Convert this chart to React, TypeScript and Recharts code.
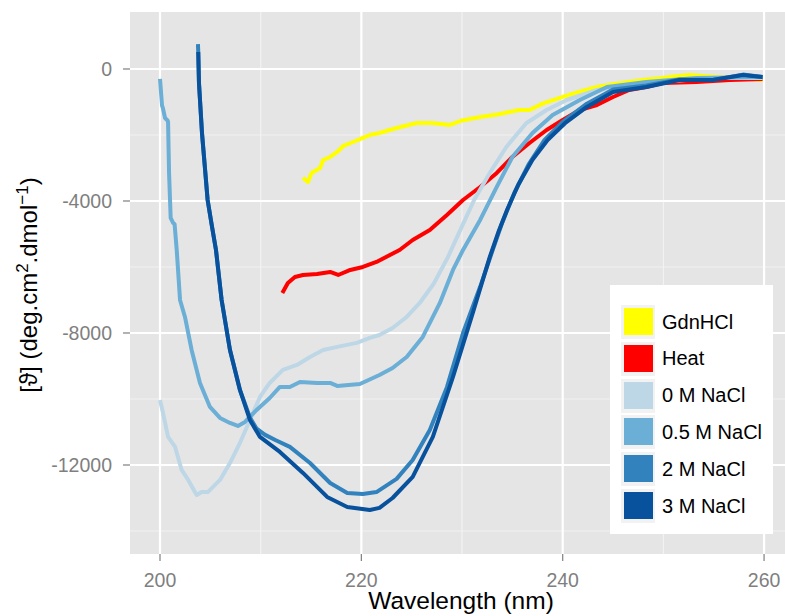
import React from 'react';
import { LineChart, Line, XAxis, YAxis, CartesianGrid, Legend, Label } from 'recharts';

// wavelength (nm) and molar ellipticity
const gdnWl = [214.2, 214.7, 215.05, 215.9, 216.2, 216.9, 217.6, 218.2, 219.2, 220.15, 220.84, 221.8, 223.5, 225.5, 227, 228.8, 230, 231.8, 233.5, 235.7, 236.7, 238, 240, 241.5, 243.4, 245, 246.6, 248, 249.9, 251, 252.6, 254.5, 256.6, 258, 259.85];
const gdnCd = [-3300, -3424, -3150, -3000, -2757, -2666, -2515, -2333, -2212, -2090, -2000, -1939, -1788, -1636, -1640, -1697, -1560, -1454, -1380, -1242, -1242, -1050, -848, -700, -545, -460, -394, -330, -273, -230, -182, -230, -273, -290, -333];

const heatWl = [212.15, 212.7, 213.4, 214.2, 215.6, 216.9, 217.7, 218.9, 220.15, 221.5, 223.8, 225.1, 226.8, 228.5, 230.1, 231.8, 233.45, 235.0, 236.7, 238.4, 240.0, 241.7, 243.4, 245.0, 246.6, 248.3, 249.9, 253.3, 256.6, 259.85];
const heatCd = [-6787, -6484, -6302, -6242, -6212, -6150, -6242, -6090, -6000, -5848, -5484, -5181, -4878, -4424, -3969, -3575, -3151, -2666, -2242, -1848, -1545, -1242, -1090, -848, -636, -545, -424, -394, -333, -303];

const nacl0Wl = [200, 200.3, 200.8, 201.5, 202.15, 202.8, 203.64, 204.14, 204.77, 205.96, 206.95, 207.94, 208.93, 209.93, 210.9, 212.2, 213.6, 214.9, 216.2, 217.6, 219.55, 220.84, 221.8, 223.1, 224.5, 225.8, 227.2, 228.6, 229.8, 231.2, 232.75, 234.4, 236.4, 238.4, 240.4, 243.4, 248.3, 254.9, 259.85];
const nacl0Cd = [-10030, -10423, -11150, -11453, -12150, -12453, -12908, -12817, -12817, -12453, -11940, -11332, -10635, -9938, -9514, -9120, -8968, -8726, -8514, -8420, -8300, -8150, -8060, -7848, -7514, -7090, -6500, -5700, -4900, -3969, -3151, -2363, -1636, -1242, -940, -636, -424, -273, -273];

const nacl05Wl = [200, 200.2, 200.3, 200.5, 200.75, 200.8, 200.9, 201.06, 201.3, 201.45, 201.66, 201.99, 202.48, 203.14, 203.97, 204.96, 205.96, 206.95, 207.74, 208.44, 209.6, 210.9, 211.91, 212.9, 213.9, 215.6, 216.9, 217.6, 219.85, 221.8, 223.1, 224.5, 226.1, 227.8, 229.1, 230.1, 231.8, 233.45, 235.0, 237.0, 239.0, 241.7, 244.4, 248.3, 253.3, 259.85];
const nacl05Cd = [-300, -1100, -1200, -1485, -1560, -1600, -3150, -4515, -4666, -4700, -5484, -7000, -7514, -8514, -9514, -10241, -10575, -10726, -10817, -10696, -10332, -9970, -9635, -9635, -9484, -9514, -9514, -9605, -9544, -9272, -9060, -8726, -8120, -7090, -6090, -5484, -4575, -3575, -2666, -1940, -1394, -940, -545, -394, -273, -242];

const nacl2Wl = [203.77, 203.8, 203.87, 204.17, 204.45, 204.73, 205.15, 205.56, 206.12, 206.95, 207.94, 208.93, 209.6, 210.4, 211.5, 212.9, 214.9, 216.9, 218.6, 220.15, 221.5, 223.5, 225.1, 226.8, 228.5, 230.1, 231.8, 233.05, 234.0, 235.2, 236.6, 238.2, 240.0, 242.4, 245, 248.3, 251.6, 254.9, 257.9, 259.85];
const nacl2Cd = [755, 515, -424, -1939, -2950, -3970, -4750, -5484, -7000, -8514, -9726, -10560, -10900, -11080, -11250, -11450, -11940, -12545, -12850, -12880, -12820, -12420, -11850, -10940, -9640, -8000, -6600, -5484, -4650, -3750, -2900, -2150, -1600, -1050, -620, -500, -320, -330, -170, -240];

const nacl3Wl = [203.8, 203.87, 204.17, 204.45, 204.73, 205.15, 205.56, 206.12, 206.95, 207.94, 208.93, 209.93, 211.91, 214.2, 216.6, 218.6, 220.84, 221.8, 223.1, 225.1, 227.1, 229.1, 231.07, 232.75, 233.6, 234.5, 235.6, 237.0, 238.5, 240.2, 242.4, 245, 248.3, 251.6, 254.9, 257.9, 259.85];
const nacl3Cd = [515, -424, -1939, -2950, -3970, -4750, -5484, -7000, -8514, -9726, -10635, -11150, -11605, -12241, -12968, -13271, -13362, -13300, -13000, -12360, -11150, -9330, -7390, -5700, -4950, -4250, -3500, -2750, -2150, -1650, -1150, -700, -545, -333, -333, -180, -242];

const seriesNames = ['GdnHCl', 'Heat', '0 M NaCl', '0.5 M NaCl', '2 M NaCl', '3 M NaCl'];
const seriesColors = ['#ffff00', '#ff0000', '#bdd7e7', '#6baed6', '#3182bd', '#08519c'];

const xTicks = [200, 220, 240, 260];
const xMinor = [210, 230, 250];
const yTicks = [-12000, -8000, -4000, 0];
const yMinor = [-14000, -10000, -6000, -2000];

const toPoints = (wl: number[], cd: number[]) => wl.map((w, i) => ({ wl: w, cd: cd[i] }));

const series = [
  toPoints(gdnWl, gdnCd),
  toPoints(heatWl, heatCd),
  toPoints(nacl0Wl, nacl0Cd),
  toPoints(nacl05Wl, nacl05Cd),
  toPoints(nacl2Wl, nacl2Cd),
  toPoints(nacl3Wl, nacl3Cd),
];

const FONT = '"Liberation Sans", Arial, Helvetica, sans-serif';
const tickStyle = { fontSize: 19.5, fill: '#7f7f7f', fontFamily: FONT };

const YTitle = () => (
  <text
    x={37}
    y={285}
    transform="rotate(-90, 37, 285)"
    textAnchor="middle"
    fontSize={24}
    fontFamily={FONT}
    fill="#000"
  >
    <tspan>[ϑ] (deg.cm</tspan>
    <tspan fontSize={17} dy={-9}>2</tspan>
    <tspan dy={9}>.dmol</tspan>
    <tspan fontSize={17} dy={-9}>−1</tspan>
    <tspan dy={9}>)</tspan>
  </text>
);

const XTitle = () => (
  <text x={461} y={609} textAnchor="middle" fontSize={24.5} fontFamily={FONT} fill="#000">
    Wavelength (nm)
  </text>
);

const LegendBox = () => (
  <div style={{ position: 'relative', width: 163, height: 249, background: '#fff', fontFamily: FONT }}>
    {seriesNames.map((name, i) => (
      <div key={name} style={{ position: 'absolute', left: 11, top: 20 + i * 36.8, height: 34, display: 'flex', alignItems: 'center' }}>
        <div style={{ width: 34, height: 34, background: '#f2f2f2', position: 'relative' }}>
          <div style={{ position: 'absolute', left: 2.5, top: 3, width: 29, height: 27, background: seriesColors[i] }} />
        </div>
        <span style={{ marginLeft: 7, fontSize: 20, color: '#000', whiteSpace: 'nowrap' }}>{name}</span>
      </div>
    ))}
  </div>
);

export default function App() {
  return (
    <div style={{ width: 785, height: 616, background: '#fff' }}>
      <style>{'body{margin:0;}'}</style>
      <LineChart width={785} height={616} margin={{ top: 12, right: 0, bottom: 0, left: 0 }}>
        <CartesianGrid
          fill="#e5e5e5"
          stroke="#f2f2f2"
          strokeWidth={1.2}
          horizontalValues={yMinor}
          verticalValues={xMinor}
        />
        <CartesianGrid
          fill="none"
          stroke="#ffffff"
          strokeWidth={2.2}
          horizontalValues={yTicks}
          verticalValues={xTicks}
        />
        <XAxis
          dataKey="wl"
          type="number"
          domain={[197.02, 262.08]}
          ticks={xTicks}
          allowDataOverflow
          axisLine={false}
          tickLine={{ stroke: '#7f7f7f', strokeWidth: 1.2 }}
          tickSize={7}
          tickMargin={12}
          tick={tickStyle}
          height={62}
        >
          <Label content={<XTitle />} />
        </XAxis>
        <YAxis
          dataKey="cd"
          type="number"
          domain={[-14697, 1727]}
          ticks={yTicks}
          allowDataOverflow
          axisLine={false}
          tickLine={{ stroke: '#7f7f7f', strokeWidth: 1.2 }}
          tickSize={7}
          tickMargin={11}
          tick={tickStyle}
          width={130}
        >
          <Label content={<YTitle />} />
        </YAxis>
        {series.map((pts, i) => (
          <Line
            key={seriesNames[i]}
            data={pts}
            dataKey="cd"
            name={seriesNames[i]}
            type="linear"
            stroke={seriesColors[i]}
            strokeWidth={4}
            strokeLinejoin="round"
            dot={false}
            activeDot={false}
            isAnimationActive={false}
          />
        ))}
        <Legend
          layout="vertical"
          align="center"
          verticalAlign="middle"
          content={<LegendBox />}
          wrapperStyle={{ left: 610, top: 285, width: 163, height: 249 }}
        />
      </LineChart>
    </div>
  );
}
